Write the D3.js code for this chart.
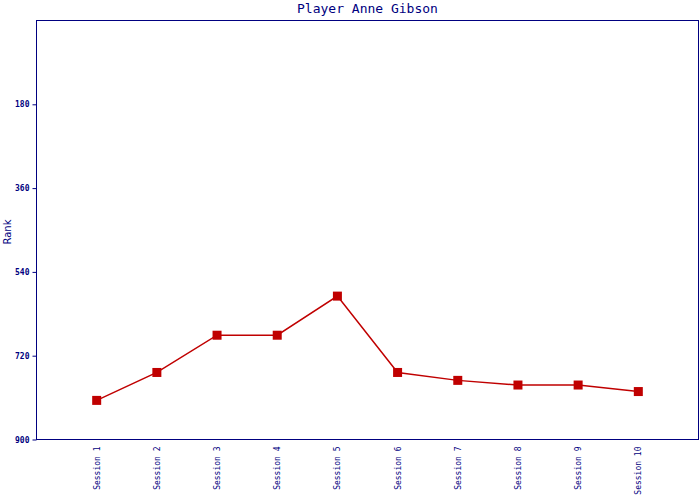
<!DOCTYPE html>
<html><head><meta charset="utf-8">
<script src="https://cdn.jsdelivr.net/npm/d3@7"></script>
<style>body{margin:0;background:#fff}</style>
</head><body>
<svg id="c" width="700" height="500"></svg>
<script>
const categories = ["Session 1","Session 2","Session 3","Session 4","Session 5","Session 6","Session 7","Session 8","Session 9","Session 10"];
const ranks = [816, 756, 676, 676, 592, 756, 773, 783, 783, 797];
const yTicks = [180, 360, 540, 720, 900];
const title = "Player Anne Gibson";
const yLabel = "Rank";

const svg = d3.select("#c");
const navy = "#000080", red = "#c00000";
const L = 36.5, R = 698.5, T = 20.5, B = 439.5;
const x = d3.scalePoint().domain(categories).range([L, R]).padding(1);
const y = d3.scaleLinear().domain([0, 900]).range([T, B]);

svg.append("text").attr("x", (L+R)/2).attr("y", 13).attr("text-anchor","middle")
  .attr("fill", navy).attr("font-family","DejaVu Sans Mono").attr("font-size", 13).text(title);

svg.append("rect").attr("x", L).attr("y", T).attr("width", R-L).attr("height", B-T)
  .attr("fill","none").attr("stroke", navy).attr("stroke-width", 1);

const ya = svg.append("g").attr("transform", `translate(${L},0)`)
  .call(d3.axisLeft(y).tickValues(yTicks).tickSize(4).tickPadding(3));
ya.select(".domain").remove();
ya.selectAll("line").attr("stroke", navy);
ya.selectAll("text").attr("fill", navy).attr("font-family","DejaVu Sans Mono")
  .attr("font-size", 8).attr("font-weight","bold");

const xa = svg.append("g").attr("transform", `translate(0,${B})`)
  .call(d3.axisBottom(x).tickSize(0).tickPadding(0));
xa.select(".domain").remove();
xa.selectAll("text").attr("fill", navy).attr("font-family","DejaVu Sans Mono")
  .attr("font-size", 8).attr("text-anchor","end")
  .attr("transform","rotate(-90)").attr("x", -7).attr("y", 0).attr("dy","0.32em");

svg.append("text").attr("transform", `translate(11,232) rotate(-90)`).attr("text-anchor","middle")
  .attr("fill", navy).attr("font-family","DejaVu Sans").attr("font-size", 10).text(yLabel);

const line = d3.line().x((d,i)=>x(categories[i])).y(d=>y(d));
svg.append("path").datum(ranks).attr("d", line).attr("fill","none")
  .attr("stroke", red).attr("stroke-width", 1.5);
svg.selectAll("rect.m").data(ranks).join("rect").attr("class","m")
  .attr("x",(d,i)=>x(categories[i])-4.5).attr("y",d=>y(d)-4.5)
  .attr("width",9).attr("height",9).attr("fill",red);
</script>
</body></html>
